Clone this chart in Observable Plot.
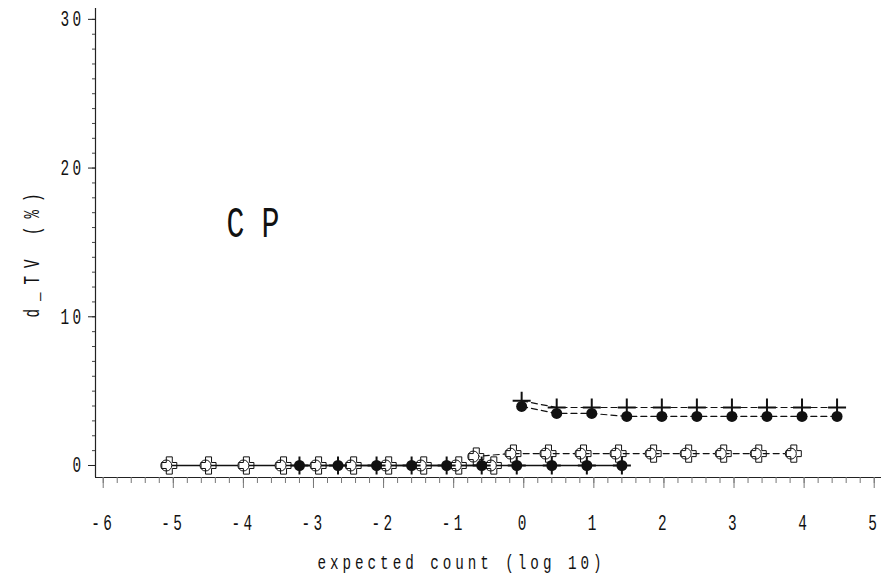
<!DOCTYPE html>
<html><head><meta charset="utf-8">
<script src="https://cdn.jsdelivr.net/npm/d3@7"></script>
<script src="https://cdn.jsdelivr.net/npm/@observablehq/plot@0.6"></script>
<style>
html,body{margin:0;padding:0;background:#fff;}
</style></head><body><div id="chart"></div>
<script>
// ---- tick labels / axes ----
const xTicks = [-6,-5,-4,-3,-2,-1,0,1,2,3,4,5];
const xMinorTicks = [-6,-5.8,-5.6,-5.4,-5.2,-5,-4.8,-4.6,-4.4,-4.2,-4,-3.8,-3.6,-3.4,-3.2,-3,-2.8,-2.6,-2.4,-2.2,-2,-1.8,-1.6,-1.4,-1.2,-1,-0.8,-0.6,-0.4,-0.2,0,0.2,0.4,0.6,0.8,1,1.2,1.4,1.6,1.8,2,2.2,2.4,2.6,2.8,3,3.2,3.4,3.6,3.8,4,4.2,4.4,4.6,4.8,5];
const yTicks = [0,10,20,30];
const yMinorTicks = [0,1,2,3,4,5,6,7,8,9,10,11,12,13,14,15,16,17,18,19,20,21,22,23,24,25,26,27,28,29,30];
const xLabel = "expected count (log 10)";
const yLabel = "d_TV (%)";
const panelLabel = "CP";

// ---- series (solid lines at 0) ----
const solidFilledX = [-3.2,-2.65,-2.1,-1.6,-1.1,-0.6,-0.1,0.4,0.9,1.4];
const solidFilledY = [0,0,0,0,0,0,0,0,0,0];
const solidOpenX = [-5.1,-4.54,-4.0,-3.47,-2.97,-2.47,-1.97,-1.47,-0.97,-0.47];
const solidOpenY = [0,0,0,0,0,0,0,0,0,0];
// ---- series (dashed) ----
const dashPlusX = [-0.03,0.47,0.97,1.47,1.97,2.47,2.97,3.47,3.97,4.47];
const dashPlusY = [4.35,3.9,3.9,3.9,3.9,3.9,3.9,3.9,3.9,3.9];
const dashFilledX = [-0.03,0.47,0.97,1.47,1.97,2.47,2.97,3.47,3.97,4.47];
const dashFilledY = [3.97,3.5,3.5,3.3,3.3,3.3,3.3,3.3,3.3,3.3];
const dashOpenX = [-0.72,-0.19,0.31,0.81,1.31,1.81,2.31,2.81,3.31,3.81];
const dashOpenY = [0.6,0.8,0.8,0.8,0.8,0.8,0.8,0.8,0.8,0.8];

const rows = (xs, ys) => xs.map((x, i) => ({x, y: ys[i]}));
const solidFilled = rows(solidFilledX, solidFilledY);
const solidOpen = rows(solidOpenX, solidOpenY);
const dashPlus = rows(dashPlusX, dashPlusY);
const dashFilled = rows(dashFilledX, dashFilledY);
const dashOpen = rows(dashOpenX, dashOpenY);

const plusSym = {draw(ctx, size) {
  const r = Math.sqrt(size / Math.PI);
  ctx.moveTo(-r, 0); ctx.lineTo(r, 0);
  ctx.moveTo(0, -r); ctx.lineTo(0, r);
}};
const crossSym = {draw(ctx, size) {
  const r = Math.sqrt(size / Math.PI), a = r * 0.4, h = r * 1.15;
  ctx.moveTo(-a, -h); ctx.lineTo(a, -h); ctx.lineTo(a, -a); ctx.lineTo(r, -a);
  ctx.lineTo(r, a); ctx.lineTo(a, a); ctx.lineTo(a, h); ctx.lineTo(-a, h);
  ctx.lineTo(-a, a); ctx.lineTo(-r, a); ctx.lineTo(-r, -a); ctx.lineTo(-a, -a);
  ctx.closePath();
}};

const xDom = [-6.11, 5.104], yDom = [-0.807, 30.73];
const ink = "#111";
const dash = "6,4";

const chart = Plot.plot({
  width: 892, height: 576,
  marginLeft: 95, marginRight: 11, marginTop: 8, marginBottom: 99,
  x: {domain: xDom},
  y: {domain: yDom},
  style: {fontFamily: "'Liberation Mono', monospace", background: "#fff", color: ink},
  marks: [
    Plot.ruleX([xDom[0]], {stroke: "#222", strokeWidth: 1.2}),
    Plot.ruleY([yDom[0]], {stroke: "#222", strokeWidth: 1.2}),
    Plot.axisX(xMinorTicks, {anchor: "bottom", tickSize: 6, tickFormat: () => "", stroke: "#777", label: null}),
    Plot.axisX(xTicks, {anchor: "bottom", tickSize: 11, tickPadding: 26, tickFormat: d => String(d), stroke: "#777", fontSize: 18, label: null}),
    Plot.axisY(yMinorTicks, {anchor: "left", tickSize: 3, tickFormat: () => "", stroke: "#444", label: null}),
    Plot.axisY(yTicks, {anchor: "left", tickSize: 7, tickPadding: 4, tickFormat: d => String(d), stroke: "#222", fontSize: 18, label: null}),
    Plot.text([xLabel], {frameAnchor: "bottom", dx: -27, dy: 91, fontSize: 19, fill: ink}),
    Plot.text([yLabel], {frameAnchor: "left", textAnchor: "middle", rotate: -90, dx: -63, dy: 8.5, fontSize: 19, fill: ink}),
    Plot.text([panelLabel], {frameAnchor: "top-left", dx: 131, dy: 197, textAnchor: "start", fontSize: 44, fill: ink}),
    // lines
    Plot.line(solidOpen, {x: "x", y: "y", stroke: ink, strokeWidth: 1.6}),
    Plot.line(solidFilled, {x: "x", y: "y", stroke: ink, strokeWidth: 1.6}),
    Plot.line(dashOpen, {x: "x", y: "y", stroke: ink, strokeWidth: 1.2, strokeDasharray: dash}),
    Plot.line(dashPlus, {x: "x", y: "y", stroke: ink, strokeWidth: 1.2, strokeDasharray: dash}),
    Plot.line(dashFilled, {x: "x", y: "y", stroke: ink, strokeWidth: 1.2, strokeDasharray: dash}),
    // open markers: circle + cross outline
    Plot.dot(solidOpen, {x: "x", y: "y", r: 5.5, fill: "#fff", stroke: ink, strokeWidth: 1}),
    Plot.dot(solidOpen, {x: "x", y: "y", r: 7.5, symbol: crossSym, dx: 3, fill: "none", stroke: ink, strokeWidth: 1}),
    Plot.dot(dashOpen, {x: "x", y: "y", r: 5.5, fill: "#fff", stroke: ink, strokeWidth: 1}),
    Plot.dot(dashOpen, {x: "x", y: "y", r: 7.5, symbol: crossSym, dx: 3, fill: "none", stroke: ink, strokeWidth: 1}),
    // filled + plus markers
    Plot.dot(solidFilled, {x: "x", y: "y", r: 5.5, fill: ink, stroke: "none"}),
    Plot.dot(solidFilled, {x: "x", y: "y", r: 9, symbol: plusSym, fill: "none", stroke: ink, strokeWidth: 2}),
    Plot.dot(dashFilled, {x: "x", y: "y", r: 5.5, fill: ink, stroke: "none"}),
    Plot.dot(dashPlus, {x: "x", y: "y", r: 9, symbol: plusSym, fill: "none", stroke: ink, strokeWidth: 2})
  ]
});
document.getElementById("chart").appendChild(chart);

// narrow, tall typewriter look: squeeze glyphs around their own anchor
function squeeze(t, sx, sy, ls) {
  t.style.letterSpacing = ls + "px";
  const x = +t.getAttribute("x") || 0, y = +t.getAttribute("y") || 0;
  const tr = t.getAttribute("transform") || "";
  t.setAttribute("transform", `${tr} translate(${x},${y}) scale(${sx},${sy}) translate(${-x},${-y})`);
}
chart.querySelectorAll("text").forEach(t => {
  const s = t.textContent;
  if (s === yLabel) squeeze(t, 0.75, 1.15, 10.6);
  else if (s === panelLabel) squeeze(t, 0.68, 1.0, 25);
  else if (s === xLabel) squeeze(t, 0.75, 1.1, 5.3);
  else if (/^-?\d+$/.test(s)) squeeze(t, 0.8, 1.2, 4.2);
});
</script></body></html>
